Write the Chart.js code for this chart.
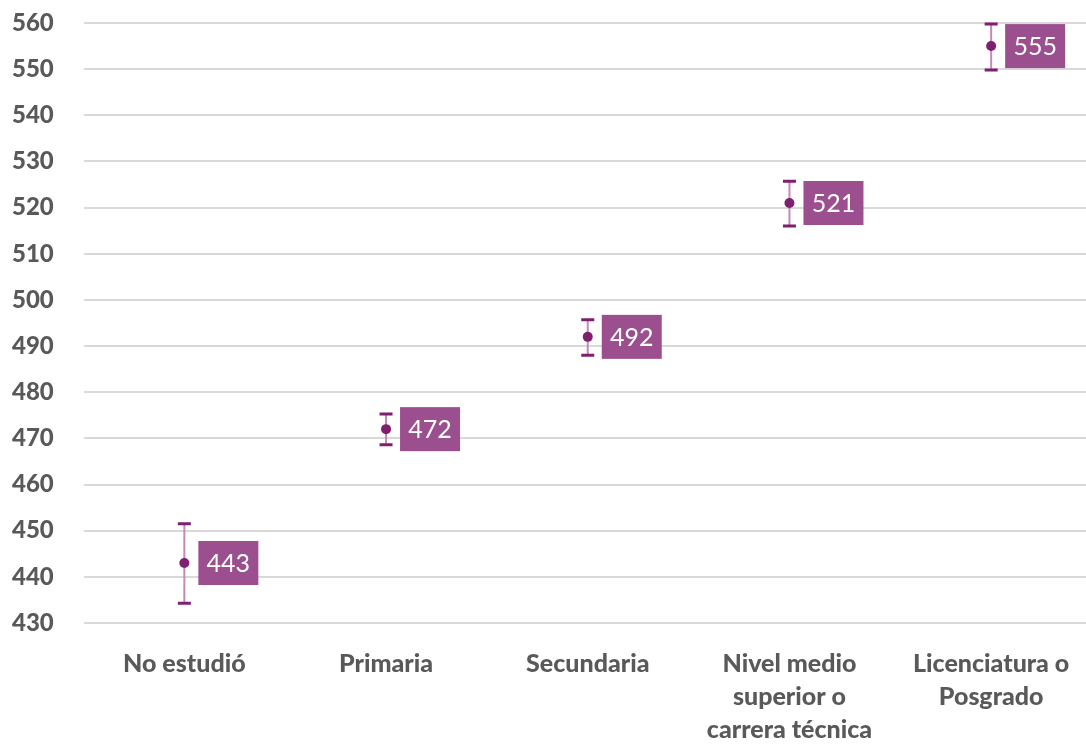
<!DOCTYPE html>
<html>
<head>
<meta charset="utf-8">
<script src="https://cdn.jsdelivr.net/npm/chart.js@4"></script>
<style>
  html, body { margin: 0; padding: 0; background: #fff; overflow: hidden; }
  #wrap { width: 1092px; height: 744px; }
</style>
</head>
<body>
<div id="wrap"><canvas id="chart"></canvas></div>
<script>
// data
const categories = ['No estudió', 'Primaria', 'Secundaria', ['Nivel medio', 'superior o', 'carrera técnica'], ['Licenciatura o', 'Posgrado']];
const scores = [443, 472, 492, 521, 555];
const errorHigh = [451.5, 475.3, 495.7, 525.7, 559.8];
const errorLow = [434.3, 468.6, 488, 516, 549.8];
const yTicks = [430, 440, 450, 460, 470, 480, 490, 500, 510, 520, 530, 540, 550, 560];

const FONT = 'Lato, "Open Sans", sans-serif';

// error bars + value boxes
const errorBars = {
  id: 'errorBars',
  afterDatasetsDraw(chart) {
    const ctx = chart.ctx;
    const x = chart.scales.x;
    const y = chart.scales.y;
    ctx.save();
    scores.forEach((v, i) => {
      const px = x.getPixelForValue(i);
      const top = y.getPixelForValue(errorHigh[i]);
      const bot = y.getPixelForValue(errorLow[i]);
      const py = y.getPixelForValue(v);
      // whisker
      ctx.strokeStyle = '#c28ab9';
      ctx.lineWidth = 2;
      ctx.beginPath();
      ctx.moveTo(px, top);
      ctx.lineTo(px, bot);
      ctx.stroke();
      // caps
      ctx.strokeStyle = '#7f1f6f';
      ctx.lineWidth = 3;
      ctx.beginPath();
      ctx.moveTo(px - 6.5, top); ctx.lineTo(px + 6.5, top);
      ctx.moveTo(px - 6.5, bot); ctx.lineTo(px + 6.5, bot);
      ctx.stroke();
      // point
      ctx.fillStyle = '#7f1f6f';
      ctx.beginPath();
      ctx.arc(px, py, 5, 0, Math.PI * 2);
      ctx.fill();
      // label box
      ctx.fillStyle = '#9b4f8f';
      ctx.fillRect(px + 14, py - 22, 60, 44);
      ctx.fillStyle = '#ffffff';
      ctx.font = '25px ' + FONT;
      ctx.textAlign = 'center';
      ctx.textBaseline = 'middle';
      ctx.fillText(String(v), px + 44, py + 1);
    });
    ctx.restore();
  }
};

new Chart(document.getElementById('chart'), {
  type: 'line',
  data: {
    labels: categories,
    datasets: [{
      data: scores,
      showLine: false,
      pointRadius: 0,
      pointHoverRadius: 0
    }]
  },
  options: {
    responsive: true,
    maintainAspectRatio: false,
    animation: false,
    events: [],
    layout: { padding: { top: 23, right: 0, bottom: 0, left: 12 } },
    plugins: {
      legend: { display: false },
      tooltip: { enabled: false }
    },
    scales: {
      x: {
        offset: true,
        grid: { display: false },
        border: { display: false },
        ticks: {
          color: '#595959',
          font: { family: FONT, size: 25, weight: 900, lineHeight: 1.32 },
          maxRotation: 0,
          autoSkip: false,
          padding: 16
        },
        afterFit(scale) { scale.height = 121; }
      },
      y: {
        min: 430,
        max: 560,
        afterBuildTicks(scale) { scale.ticks = yTicks.map(v => ({ value: v })); },
        grid: { color: '#d9d9d9', lineWidth: 2, drawTicks: false },
        border: { display: false },
        ticks: {
          color: '#595959',
          font: { family: FONT, size: 24, weight: 900 },
          crossAlign: 'far',
          padding: 0
        },
        afterFit(scale) { scale.width = 71.5; }
      }
    }
  },
  plugins: [errorBars]
});
</script>
</body>
</html>
